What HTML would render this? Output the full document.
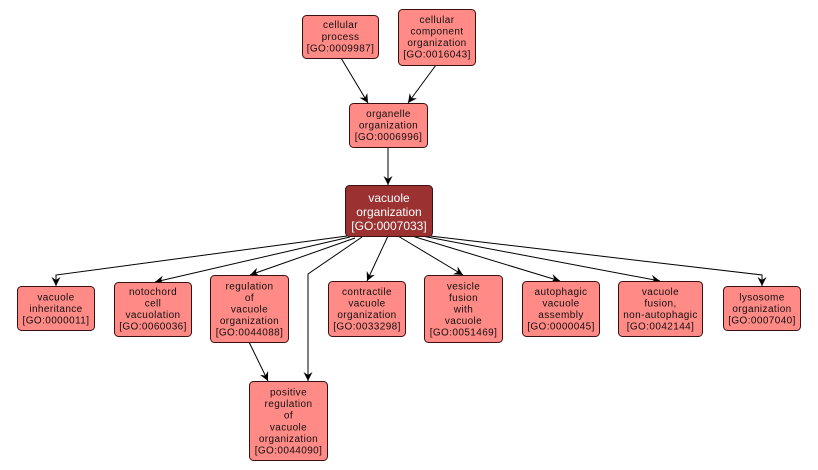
<!DOCTYPE html>
<html>
<head>
<meta charset="utf-8">
<style>
html,body{margin:0;padding:0;background:#fff;}
svg{display:block;}
text{font-family:"Liberation Sans",Arial,sans-serif;}
.n{fill:#ff8a86;stroke:#3a1010;stroke-width:1;}
.d{fill:#9b3131;stroke:#3a1010;stroke-width:1;}
.t{font-size:10px;letter-spacing:0.4px;fill:#111;text-anchor:middle;}
.w{font-size:12px;fill:#fff;text-anchor:middle;}
.e{fill:none;stroke:#000;stroke-width:1;marker-end:url(#ah);}
</style>
</head>
<body>
<svg width="818" height="470" viewBox="0 0 818 470" xmlns="http://www.w3.org/2000/svg">
<defs>
<marker id="ah" markerUnits="userSpaceOnUse" markerWidth="12" markerHeight="12" viewBox="-10 -6 12 12" refX="0" refY="0" orient="auto">
<path d="M0,0 L-9,-4.5 L-6,0 L-9,4.5 Z" fill="#000"/>
</marker>
</defs>

<!-- edges -->
<line class="e" x1="341" y1="58" x2="368" y2="103"/>
<line class="e" x1="436" y1="65" x2="408" y2="103"/>
<line class="e" x1="388" y1="147" x2="388" y2="185"/>
<polyline class="e" points="347,236 56,275 56,286"/>
<line class="e" x1="350" y1="237" x2="155" y2="282"/>
<line class="e" x1="355" y1="238" x2="250" y2="275"/>
<polyline class="e" points="362,237 308,274 308,381"/>
<line class="e" x1="388" y1="236" x2="367" y2="281"/>
<line class="e" x1="398" y1="236" x2="463" y2="275"/>
<line class="e" x1="412" y1="236" x2="560" y2="281"/>
<line class="e" x1="422" y1="236" x2="660" y2="281"/>
<polyline class="e" points="430,236 762,275 762,286"/>
<line class="e" x1="249" y1="342" x2="268" y2="381"/>

<!-- nodes -->
<rect class="n" x="302.5" y="15.5" width="76" height="43" rx="4"/>
<text class="t" x="340.5" y="28">cellular</text>
<text class="t" x="340.5" y="40">process</text>
<text class="t" x="340.5" y="51.5">[GO:0009987]</text>

<rect class="n" x="398.5" y="9.5" width="77" height="56" rx="4"/>
<text class="t" x="437" y="23">cellular</text>
<text class="t" x="437" y="34.5">component</text>
<text class="t" x="437" y="46">organization</text>
<text class="t" x="437" y="57.5">[GO:0016043]</text>

<rect class="n" x="349.5" y="103.5" width="78" height="44" rx="4"/>
<text class="t" x="388.5" y="117">organelle</text>
<text class="t" x="388.5" y="128.5">organization</text>
<text class="t" x="388.5" y="140">[GO:0006996]</text>

<rect class="d" x="345.5" y="185.5" width="87" height="51" rx="4"/>
<text class="w" x="389" y="202">vacuole</text>
<text class="w" x="389" y="216">organization</text>
<text class="w" x="389" y="230">[GO:0007033]</text>

<rect class="n" x="17.5" y="286.5" width="77" height="44" rx="4"/>
<text class="t" x="56" y="300.5">vacuole</text>
<text class="t" x="56" y="312">inheritance</text>
<text class="t" x="56" y="323.5">[GO:0000011]</text>

<rect class="n" x="114.5" y="282.5" width="77" height="54" rx="4"/>
<text class="t" x="153" y="295">notochord</text>
<text class="t" x="153" y="306.5">cell</text>
<text class="t" x="153" y="318">vacuolation</text>
<text class="t" x="153" y="329.5">[GO:0060036]</text>

<rect class="n" x="210.5" y="275.5" width="78" height="67" rx="4"/>
<text class="t" x="249.5" y="289.5">regulation</text>
<text class="t" x="249.5" y="301">of</text>
<text class="t" x="249.5" y="312.5">vacuole</text>
<text class="t" x="249.5" y="324">organization</text>
<text class="t" x="249.5" y="335.5">[GO:0044088]</text>

<rect class="n" x="249.5" y="381.5" width="78" height="79" rx="4"/>
<text class="t" x="288.5" y="395.5">positive</text>
<text class="t" x="288.5" y="407">regulation</text>
<text class="t" x="288.5" y="418.5">of</text>
<text class="t" x="288.5" y="430.5">vacuole</text>
<text class="t" x="288.5" y="442">organization</text>
<text class="t" x="288.5" y="453.5">[GO:0044090]</text>

<rect class="n" x="328.5" y="281.5" width="77" height="55" rx="4"/>
<text class="t" x="367" y="295">contractile</text>
<text class="t" x="367" y="306.5">vacuole</text>
<text class="t" x="367" y="318">organization</text>
<text class="t" x="367" y="329.5">[GO:0033298]</text>

<rect class="n" x="424.5" y="275.5" width="78" height="67" rx="4"/>
<text class="t" x="463.5" y="289.5">vesicle</text>
<text class="t" x="463.5" y="301">fusion</text>
<text class="t" x="463.5" y="312.5">with</text>
<text class="t" x="463.5" y="324">vacuole</text>
<text class="t" x="463.5" y="335.5">[GO:0051469]</text>

<rect class="n" x="522.5" y="281.5" width="77" height="55" rx="4"/>
<text class="t" x="561" y="295">autophagic</text>
<text class="t" x="561" y="306.5">vacuole</text>
<text class="t" x="561" y="318">assembly</text>
<text class="t" x="561" y="329.5">[GO:0000045]</text>

<rect class="n" x="618.5" y="281.5" width="84" height="55" rx="4"/>
<text class="t" x="660.5" y="295">vacuole</text>
<text class="t" x="660.5" y="306.5">fusion,</text>
<text class="t" x="660.5" y="318">non-autophagic</text>
<text class="t" x="660.5" y="329.5">[GO:0042144]</text>

<rect class="n" x="723.5" y="286.5" width="77" height="44" rx="4"/>
<text class="t" x="762" y="300.5">lysosome</text>
<text class="t" x="762" y="312">organization</text>
<text class="t" x="762" y="323.5">[GO:0007040]</text>
</svg>
</body>
</html>
